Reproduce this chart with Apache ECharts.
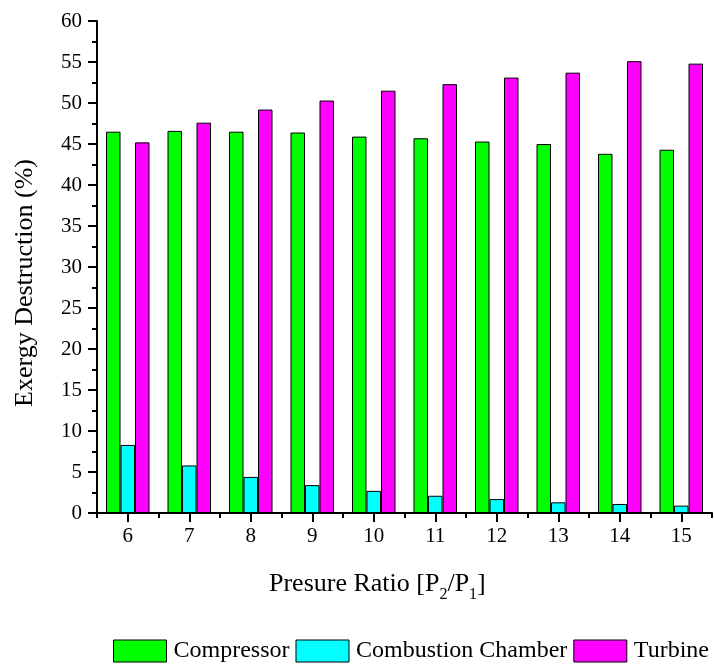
<!DOCTYPE html>
<html>
<head>
<meta charset="utf-8">
<script src="https://cdn.jsdelivr.net/npm/echarts@6/dist/echarts.min.js"></script>
<style>html,body{margin:0;padding:0;background:#fff;}#c{width:714px;height:664px;}</style>
</head>
<body>
<div id="c"></div>
<script>
var categories = ['6', '7', '8', '9', '10', '11', '12', '13', '14', '15'];
var compressor = [46.5, 46.6, 46.5, 46.4, 45.9, 45.7, 45.3, 45.0, 43.8, 44.3];
var combustion = [8.3, 5.8, 4.4, 3.4, 2.7, 2.1, 1.7, 1.3, 1.1, 0.9];
var turbine = [45.2, 47.6, 49.2, 50.3, 51.5, 52.3, 53.1, 53.7, 55.1, 54.8];
var seriesNames = ['Compressor', 'Combustion Chamber', 'Turbine'];
var yTitle = 'Exergy Destruction (%)';

var FONT = '"Liberation Serif", "Times New Roman", serif';
var chart = echarts.init(document.getElementById('c'), null, {renderer: 'canvas'});

function barSeries(name, data, color) {
  return {
    name: name, type: 'bar', data: data, xAxisIndex: 0, yAxisIndex: 0,
    barWidth: 14.5, barGap: '0%',
    itemStyle: {color: color, borderColor: '#000', borderWidth: 1},
    emphasis: {disabled: true}
  };
}

var option = {
  animation: false,
  backgroundColor: '#fff',
  textStyle: {fontFamily: FONT},
  grid: {left: 97, right: 2, top: 21, bottom: 151, containLabel: false},
  xAxis: [{
    type: 'category', data: categories, position: 'bottom',
    axisLine: {show: true, lineStyle: {color: '#000', width: 2}},
    axisTick: {show: true, alignWithLabel: true, length: 9, lineStyle: {color: '#000', width: 2}},
    axisLabel: {color: '#000', fontSize: 21, fontFamily: FONT, margin: 13},
    splitLine: {show: false}
  }, {
    type: 'category', data: categories, position: 'bottom',
    axisLine: {show: false},
    axisTick: {show: true, alignWithLabel: false, length: 5, lineStyle: {color: '#000', width: 2}},
    axisLabel: {show: false},
    splitLine: {show: false}
  }],
  yAxis: {
    type: 'value', min: 0, max: 60, interval: 5,
    axisLine: {show: true, lineStyle: {color: '#000', width: 2}},
    axisTick: {show: true, length: 9, lineStyle: {color: '#000', width: 2}},
    minorTick: {show: true, splitNumber: 2, length: 5, lineStyle: {color: '#000', width: 2}},
    axisLabel: {color: '#000', fontSize: 21, fontFamily: FONT, margin: 15},
    splitLine: {show: false}
  },
  legend: {
    data: seriesNames,
    icon: 'rect',
    left: 113, top: 639,
    itemWidth: 53, itemHeight: 22, itemGap: 6,
    padding: 0,
    itemStyle: {borderColor: '#000', borderWidth: 1},
    textStyle: {color: '#000', fontSize: 24, fontFamily: FONT, padding: [0, 0, 0, 2]},
    selectedMode: false
  },
  graphic: [{
    type: 'text', left: 269, top: 571,
    style: {
      text: '{n|Presure Ratio [P}{s|2}{n|/P}{s|1}{n|]}',
      rich: {
        n: {fontSize: 26, fontFamily: FONT, fill: '#000', verticalAlign: 'bottom', lineHeight: 30},
        s: {fontSize: 16, fontFamily: FONT, fill: '#000', verticalAlign: 'bottom', lineHeight: 30, padding: [0, 0, -6, 0]}
      }
    }
  }, {
    type: 'text', x: 25, y: 283, rotation: Math.PI / 2,
    style: {
      text: yTitle, fontSize: 26, fontFamily: FONT, fill: '#000',
      align: 'center', verticalAlign: 'middle'
    }
  }],
  series: [
    barSeries(seriesNames[0], compressor, '#00FF00'),
    barSeries(seriesNames[1], combustion, '#00FFFF'),
    barSeries(seriesNames[2], turbine, '#FF00FF')
  ]
};
chart.setOption(option);
</script>
</body>
</html>
